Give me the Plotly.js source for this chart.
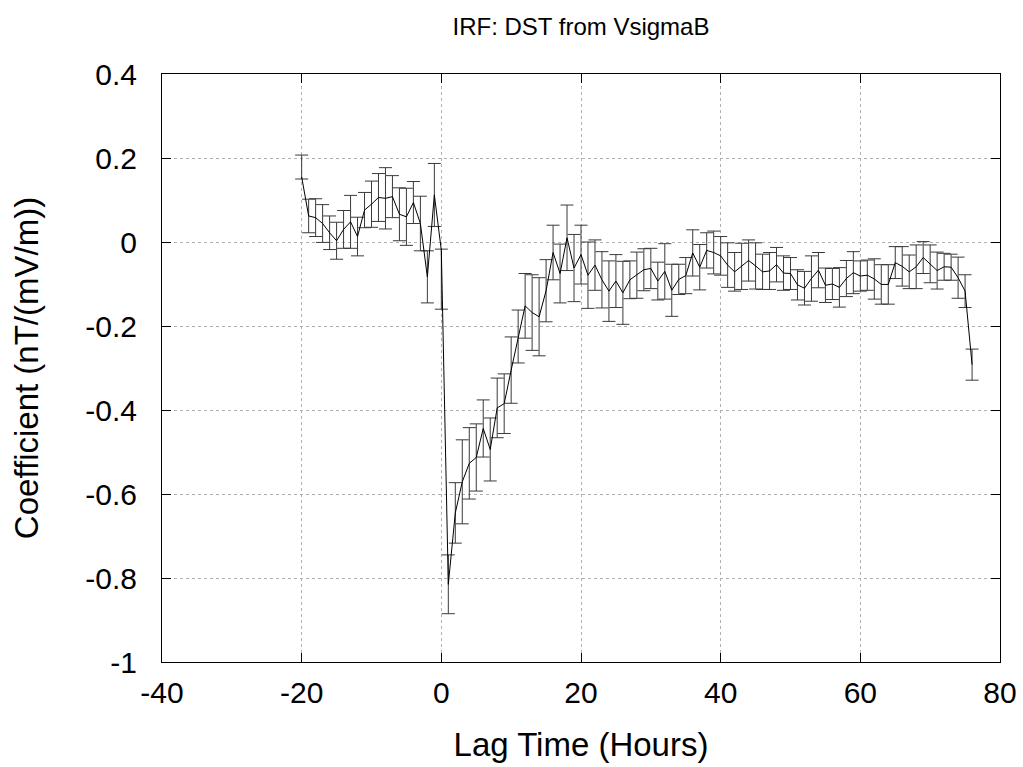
<!DOCTYPE html>
<html>
<head>
<meta charset="utf-8">
<script src="https://cdn.plot.ly/plotly-3.0.1.min.js"></script>
<style>html,body{margin:0;padding:0;background:#fff;}#chart{width:1023px;height:767px;}</style>
</head>
<body>
<div id="chart"></div>
<script>
const lags = [-20,-19,-18,-17,-16,-15,-14,-13,-12,-11,-10,-9,-8,-7,-6,-5,-4,-3,-2,-1,
  0,1,2,3,4,5,6,7,8,9,10,11,12,13,14,15,16,17,18,19,
  20,21,22,23,24,25,26,27,28,29,30,31,32,33,34,35,36,37,38,39,
  40,41,42,43,44,45,46,47,48,49,50,51,52,53,54,55,56,57,58,59,
  60,61,62,63,64,65,66,67,68,69,70,71,72,73,74,75,76];

const coefficient = [0.155,0.062,0.058,0.044,0.022,0.003,0.030,0.048,0.013,0.076,
  0.090,0.106,0.104,0.108,0.066,0.060,0.094,0.044,-0.083,0.112,
  -0.020,-0.815,-0.645,-0.571,-0.527,-0.513,-0.444,-0.494,-0.395,-0.385,
  -0.305,-0.225,-0.152,-0.168,-0.178,-0.116,-0.025,-0.075,0.010,-0.062,
  -0.030,-0.079,-0.055,-0.090,-0.117,-0.093,-0.121,-0.090,-0.079,-0.066,
  -0.063,-0.093,-0.070,-0.115,-0.089,-0.080,-0.026,-0.060,-0.020,-0.025,
  -0.033,-0.055,-0.071,-0.058,-0.044,-0.057,-0.071,-0.069,-0.054,-0.074,
  -0.075,-0.102,-0.110,-0.087,-0.067,-0.103,-0.100,-0.108,-0.087,-0.073,
  -0.081,-0.079,-0.088,-0.101,-0.101,-0.049,-0.058,-0.071,-0.059,-0.037,
  -0.052,-0.068,-0.059,-0.060,-0.085,-0.117,-0.292];

const errUp = [0.052,0.040,0.045,0.045,0.040,0.044,0.045,0.063,0.046,0.042,
  0.055,0.057,0.073,0.050,0.063,0.068,0.050,0.065,0.062,0.075,
  0.003,0.070,0.072,0.100,0.085,0.080,0.068,0.075,0.071,0.071,
  0.079,0.063,0.077,0.090,0.093,0.074,0.065,0.070,0.078,0.080,
  0.070,0.079,0.060,0.067,0.072,0.063,0.075,0.045,0.055,0.050,
  0.048,0.045,0.066,0.062,0.036,0.043,0.055,0.054,0.042,0.051,
  0.046,0.053,0.046,0.055,0.049,0.055,0.042,0.044,0.041,0.041,
  0.038,0.036,0.040,0.054,0.042,0.041,0.037,0.047,0.043,0.050,
  0.036,0.036,0.048,0.047,0.047,0.038,0.047,0.040,0.052,0.038,
  0.045,0.044,0.032,0.031,0.049,0.039,0.037];

const errDown = [0.005,0.040,0.045,0.045,0.040,0.044,0.045,0.063,0.046,0.042,
  0.055,0.057,0.073,0.050,0.063,0.068,0.050,0.065,0.062,0.075,
  0.140,0.070,0.072,0.100,0.085,0.080,0.068,0.075,0.071,0.071,
  0.079,0.063,0.077,0.090,0.093,0.074,0.065,0.070,0.078,0.080,
  0.070,0.079,0.060,0.067,0.072,0.063,0.075,0.045,0.055,0.050,
  0.048,0.045,0.066,0.062,0.036,0.043,0.055,0.054,0.042,0.051,
  0.046,0.053,0.046,0.055,0.049,0.055,0.042,0.044,0.041,0.041,
  0.038,0.036,0.040,0.054,0.042,0.041,0.037,0.047,0.043,0.050,
  0.036,0.036,0.048,0.047,0.047,0.038,0.047,0.040,0.052,0.038,
  0.045,0.044,0.032,0.031,0.049,0.039,0.037];

const xTickVals = [-40,-20,0,20,40,60,80];
const xTickText = ['-40','-20','0','20','40','60','80'];
const yTickVals = [0.4,0.2,0,-0.2,-0.4,-0.6,-0.8,-1];
const yTickText = ['0.4','0.2','0','-0.2','-0.4','-0.6','-0.8','-1'];

const FONT = 'Liberation Sans, Arial, Helvetica, sans-serif';

const trace = {
  x: lags,
  y: coefficient,
  type: 'scatter',
  mode: 'lines',
  line: {color: '#000000', width: 1},
  error_y: {
    type: 'data',
    symmetric: false,
    array: errUp,
    arrayminus: errDown,
    color: '#3a3a3a',
    thickness: 1,
    width: 6.5
  },
  hoverinfo: 'x+y'
};

const axisCommon = {
  showline: true, linecolor: '#000', linewidth: 1, mirror: 'ticks',
  ticks: 'inside', ticklen: 9, tickwidth: 1, tickcolor: '#000',
  showgrid: true, gridcolor: '#b0b0b0', gridwidth: 1, griddash: 'dot',
  zeroline: false,
  tickfont: {family: FONT, size: 30, color: '#000'}
};

const layout = {
  width: 1023, height: 767,
  paper_bgcolor: '#fff', plot_bgcolor: '#fff',
  margin: {l: 162, r: 23, t: 74, b: 105},
  showlegend: false,
  title: {
    text: 'IRF: DST from VsigmaB',
    font: {family: FONT, size: 24, color: '#000'},
    x: 0.5, xref: 'paper', y: 1 - 27/767, yref: 'container', yanchor: 'middle'
  },
  xaxis: Object.assign({}, axisCommon, {
    range: [-40, 80], tickmode: 'array', tickvals: xTickVals, ticktext: xTickText,
    ticklabelstandoff: 4,
    title: {text: 'Lag Time (Hours)', font: {family: FONT, size: 33, color: '#000'}, standoff: 24}
  }),
  yaxis: Object.assign({}, axisCommon, {
    range: [-1, 0.4], tickmode: 'array', tickvals: yTickVals, ticktext: yTickText,
    ticklabelstandoff: 18,
    title: {text: 'Coefficient (nT/(mV/m))', font: {family: FONT, size: 33, color: '#000'}, standoff: 36}
  })
};

Plotly.newPlot('chart', [trace], layout, {displayModeBar: false, staticPlot: true});
</script>
</body>
</html>
